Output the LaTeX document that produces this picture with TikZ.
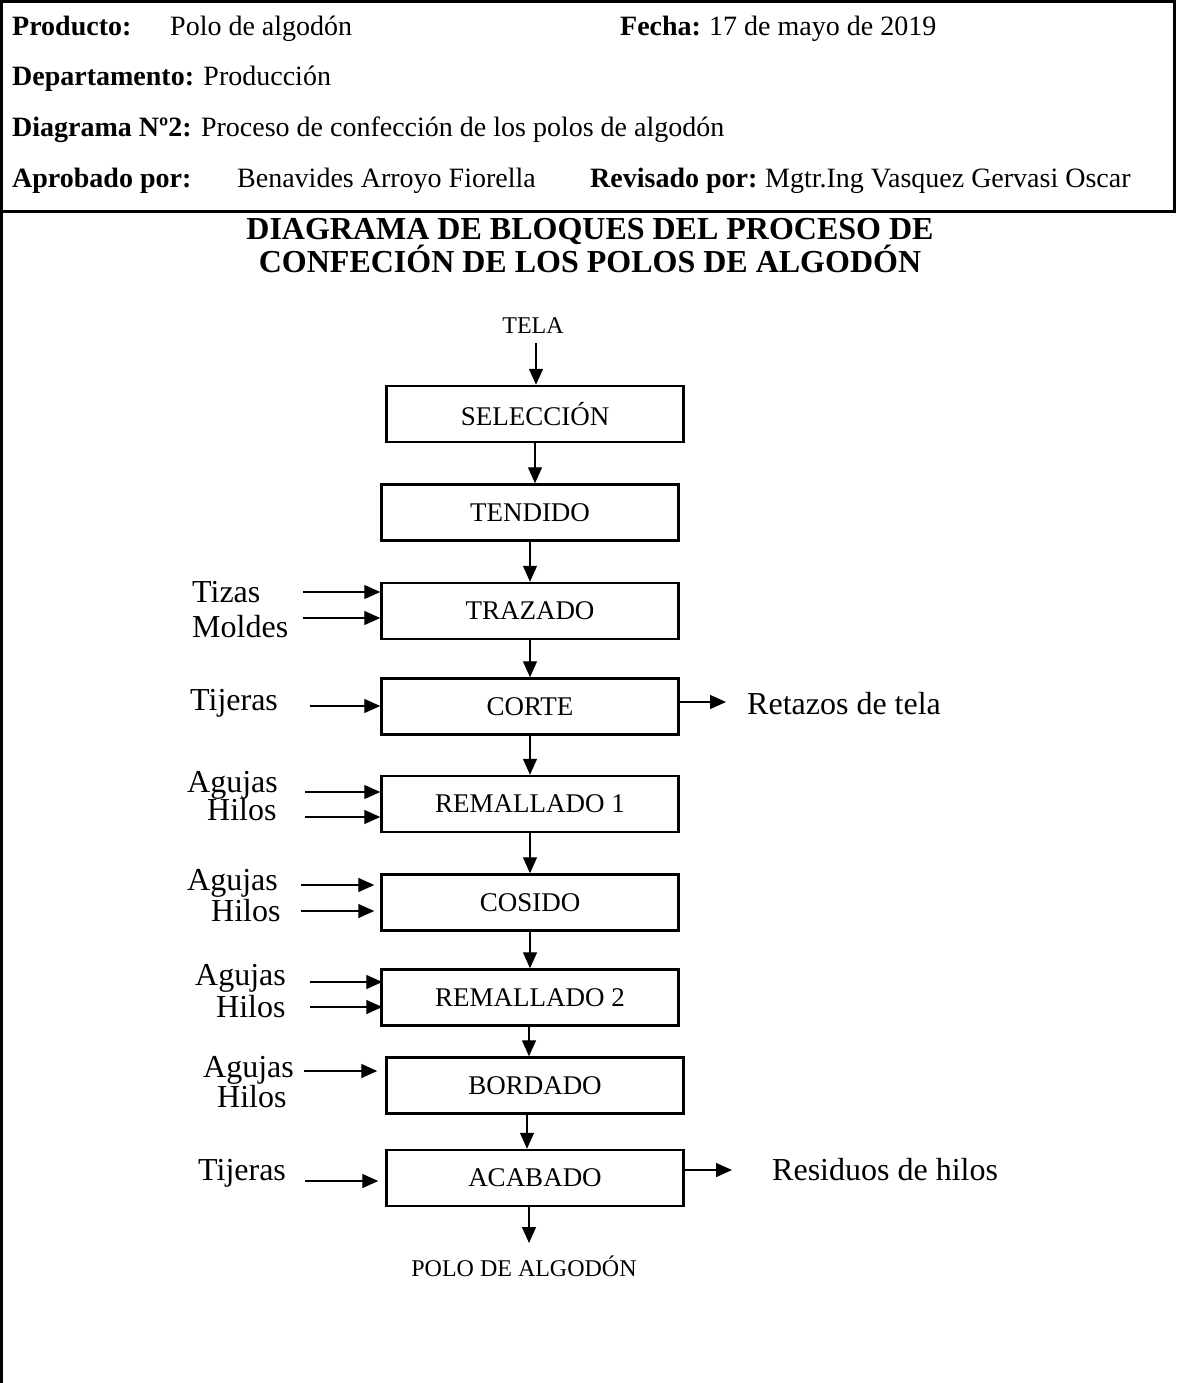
\documentclass[tikz,border=0pt]{standalone}
\usepackage{fontspec}
\setmainfont{Liberation Serif}
\usetikzlibrary{arrows.meta}
\begin{document}
\begin{tikzpicture}[x=1pt,y=-1pt,
  box/.style={draw, line width=2.5pt, minimum width=297pt, minimum height=56pt, inner sep=0pt, font=\fontsize{27}{30}\selectfont},
  arr/.style={-{Triangle[length=16pt,width=14pt]}, line width=1.4pt},
  hdr/.style={anchor=base west, inner sep=0pt, font=\fontsize{28}{30}\selectfont},
  side/.style={anchor=base west, inner sep=0pt, font=\fontsize{32}{34}\selectfont},
  small/.style={anchor=base, inner sep=0pt, font=\fontsize{24}{26}\selectfont},
  frame/.style={line width=3pt}]
\useasboundingbox (0,0) rectangle (1176,1383);
% frame
\draw[frame] (0,1.5) -- (1176,1.5);
\draw[frame] (1.5,0) -- (1.5,1383);
\draw[frame] (1174.5,0) -- (1174.5,211);
\draw[frame] (0,211) -- (1176,211);
% header
\node[hdr] (prodL) at (12,36) {\textbf{Producto:}};
\node[hdr] (prodV) at (170,36) {Polo de algodón};
\node[hdr] (fechaL) at (620,36) {\textbf{Fecha:}};
\node[hdr] (fechaV) at (709,36) {17 de mayo de 2019};
\node[hdr] (dep) at (12,86) {\textbf{Departamento:} Producción};
\node[hdr] (diag) at (12,137) {\textbf{Diagrama Nº2:} Proceso de confección de los polos de algodón};
\node[hdr] (aprL) at (12,187) {\textbf{Aprobado por:}};
\node[hdr] (aprV) at (237,187) {Benavides Arroyo Fiorella};
\node[hdr] (revL) at (590,187) {\textbf{Revisado por:}};
\node[hdr] (revV) at (765,187) {Mgtr.Ing Vasquez Gervasi Oscar};
% title
\node[font=\fontsize{32}{33}\selectfont\bfseries, align=center, inner sep=0pt] (title) at (590,246)
  {DIAGRAMA DE BLOQUES DEL PROCESO DE\\CONFECIÓN DE LOS POLOS DE ALGODÓN};
% process boxes
\node[box] (sel) at (535,414) {SELECCIÓN};
\node[box] (tend) at (530,512.5) {TENDIDO};
\node[box] (traz) at (530,611) {TRAZADO};
\node[box] (corte) at (530,706.5) {CORTE};
\node[box] (rem1) at (530,804) {REMALLADO 1};
\node[box] (cos) at (530,902.5) {COSIDO};
\node[box] (rem2) at (530,997.5) {REMALLADO 2};
\node[box] (bord) at (535,1085.5) {BORDADO};
\node[box] (acab) at (535,1178) {ACABADO};
% input / output labels
\node[small] (tela) at (533,333) {TELA};
\node[small] (polo) at (524,1276) {POLO DE ALGODÓN};
\node[side] (tizas) at (192,602) {Tizas};
\node[side] (moldes) at (192,637) {Moldes};
\node[side] (tij1) at (190,710) {Tijeras};
\node[side] (retazos) at (747,714) {Retazos de tela};
\node[side] (ag1) at (187,792) {Agujas};
\node[side] (hi1) at (207,820) {Hilos};
\node[side] (ag2) at (187,890) {Agujas};
\node[side] (hi2) at (211,921) {Hilos};
\node[side] (ag3) at (195,985) {Agujas};
\node[side] (hi3) at (216,1017) {Hilos};
\node[side] (ag4) at (203,1077) {Agujas};
\node[side] (hi4) at (217,1107) {Hilos};
\node[side] (tij2) at (198,1180) {Tijeras};
\node[side] (residuos) at (772,1180) {Residuos de hilos};
% free ends
\coordinate (telaA) at (536,343);
\coordinate (poloA) at (529,1243);
\coordinate (a1) at (303,592);
\coordinate (a2) at (303,618);
\coordinate (a3) at (310,706);
\coordinate (o1) at (726,702);
\coordinate (a4) at (305,792);
\coordinate (a5) at (305,817);
\coordinate (a6) at (301,885);
\coordinate (a7) at (301,911);
\coordinate (a8) at (310,982);
\coordinate (a9) at (310,1007);
\coordinate (a10) at (304,1071);
\coordinate (a11) at (305,1181);
\coordinate (o2) at (732,1170);
% main flow
\draw[arr] (telaA) -- (telaA |- sel.north);
\draw[arr] (sel.south) -- (sel.south |- tend.north);
\draw[arr] (tend.south) -- (tend.south |- traz.north);
\draw[arr] (traz.south) -- (traz.south |- corte.north);
\draw[arr] (corte.south) -- (corte.south |- rem1.north);
\draw[arr] (rem1.south) -- (rem1.south |- cos.north);
\draw[arr] (cos.south) -- (cos.south |- rem2.north);
\draw[arr] ([xshift=-1pt]rem2.south) -- ([xshift=-1pt]rem2.south |- bord.north);
\draw[arr] ([xshift=-8pt]bord.south) -- ([xshift=-8pt]bord.south |- acab.north);
\draw[arr] (acab.south -| poloA) -- (poloA);
% side inputs
\draw[arr] (a1) -- (a1 -| traz.west);
\draw[arr] (a2) -- (a2 -| traz.west);
\draw[arr] (a3) -- (a3 -| corte.west);
\draw[arr] (a4) -- (a4 -| rem1.west);
\draw[arr] (a5) -- (a5 -| rem1.west);
\draw[arr, shorten >=6pt] (a6) -- (a6 -| cos.west);
\draw[arr, shorten >=6pt] (a7) -- (a7 -| cos.west);
\draw[arr, shorten >=-2pt] (a8) -- (a8 -| rem2.west);
\draw[arr, shorten >=-2pt] (a9) -- (a9 -| rem2.west);
\draw[arr, shorten >=8pt] (a10) -- (a10 -| bord.west);
\draw[arr, shorten >=7pt] (a11) -- (a11 -| acab.west);
% outputs
\draw[arr] (corte.east |- o1) -- (o1);
\draw[arr] (acab.east |- o2) -- (o2);
\end{tikzpicture}
\end{document}
